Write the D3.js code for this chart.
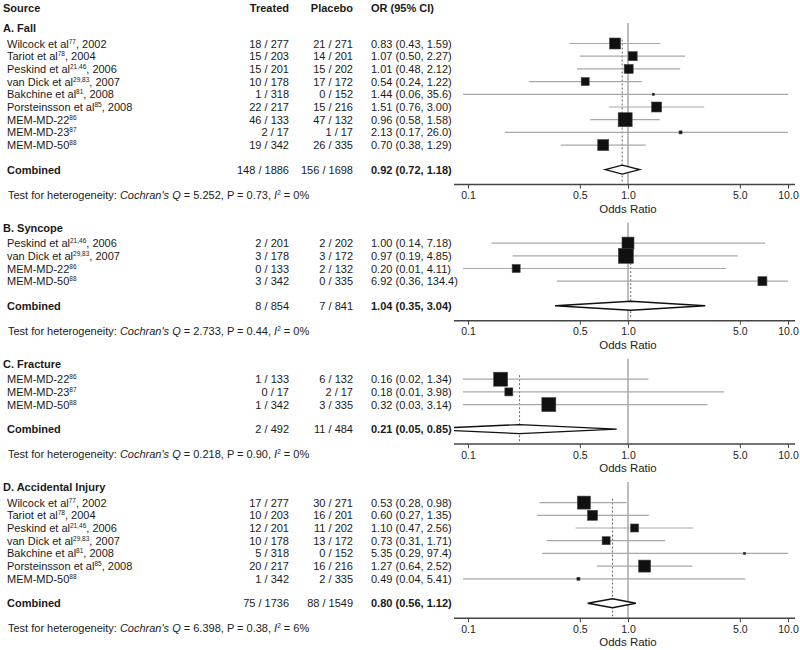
<!DOCTYPE html>
<html><head><meta charset="utf-8">
<script src="https://cdn.jsdelivr.net/npm/d3@7"></script>
<style>
body{margin:0;background:#fff;}
svg{font-family:"Liberation Sans",Arial,sans-serif;}
</style></head>
<body><svg id="c" width="800" height="650"></svg>
<script>
// ---------- DATA ----------
const panelTitles = ["A. Fall", "B. Syncope", "C. Fracture", "D. Accidental Injury"];

const fallStudies = ["Wilcock et al", "Tariot et al", "Peskind et al", "van Dick et al", "Bakchine et al", "Porsteinsson et al", "MEM-MD-22", "MEM-MD-23", "MEM-MD-50"];
const fallRefs = ["77", "78", "21,46", "29,83", "81", "85", "86", "87", "88"];
const fallYears = [", 2002", ", 2004", ", 2006", ", 2007", ", 2008", ", 2008", "", "", ""];
const fallTreated = ["18 / 277", "15 / 203", "15 / 201", "10 / 178", "1 / 318", "22 / 217", "46 / 133", "2 / 17", "19 / 342"];
const fallPlacebo = ["21 / 271", "14 / 201", "15 / 202", "17 / 172", "0 / 152", "15 / 216", "47 / 132", "1 / 17", "26 / 335"];
const fallOR = [0.83, 1.07, 1.01, 0.54, 1.44, 1.51, 0.96, 2.13, 0.70];
const fallLo = [0.43, 0.50, 0.48, 0.24, 0.06, 0.76, 0.58, 0.17, 0.38];
const fallHi = [1.59, 2.27, 2.12, 1.22, 35.6, 3.00, 1.58, 26.0, 1.29];
const fallOrText = ["0.83 (0.43, 1.59)", "1.07 (0.50, 2.27)", "1.01 (0.48, 2.12)", "0.54 (0.24, 1.22)", "1.44 (0.06, 35.6)", "1.51 (0.76, 3.00)", "0.96 (0.58, 1.58)", "2.13 (0.17, 26.0)", "0.70 (0.38, 1.29)"];
const fallWeight = [121, 81, 81, 64, 5, 100, 196, 9, 121];

const syncStudies = ["Peskind et al", "van Dick et al", "MEM-MD-22", "MEM-MD-50"];
const syncRefs = ["21,46", "29,83", "86", "88"];
const syncYears = [", 2006", ", 2007", "", ""];
const syncTreated = ["2 / 201", "3 / 178", "0 / 133", "3 / 342"];
const syncPlacebo = ["2 / 202", "3 / 172", "2 / 132", "0 / 335"];
const syncOR = [1.00, 0.97, 0.20, 6.92];
const syncLo = [0.14, 0.19, 0.01, 0.36];
const syncHi = [7.18, 4.85, 4.11, 134.4];
const syncOrText = ["1.00 (0.14, 7.18)", "0.97 (0.19, 4.85)", "0.20 (0.01, 4.11)", "6.92 (0.36, 134.4)"];
const syncWeight = [144, 225, 64, 81];

const fracStudies = ["MEM-MD-22", "MEM-MD-23", "MEM-MD-50"];
const fracRefs = ["86", "87", "88"];
const fracYears = ["", "", ""];
const fracTreated = ["1 / 133", "0 / 17", "1 / 342"];
const fracPlacebo = ["6 / 132", "2 / 17", "3 / 335"];
const fracOR = [0.16, 0.18, 0.32];
const fracLo = [0.02, 0.01, 0.03];
const fracHi = [1.34, 3.98, 3.14];
const fracOrText = ["0.16 (0.02, 1.34)", "0.18 (0.01, 3.98)", "0.32 (0.03, 3.14)"];
const fracWeight = [196, 64, 196];

const injStudies = ["Wilcock et al", "Tariot et al", "Peskind et al", "van Dick et al", "Bakchine et al", "Porsteinsson et al", "MEM-MD-50"];
const injRefs = ["77", "78", "21,46", "29,83", "81", "85", "88"];
const injYears = [", 2002", ", 2004", ", 2006", ", 2007", ", 2008", ", 2008", ""];
const injTreated = ["17 / 277", "10 / 203", "12 / 201", "10 / 178", "5 / 318", "20 / 217", "1 / 342"];
const injPlacebo = ["30 / 271", "16 / 201", "11 / 202", "13 / 172", "0 / 152", "16 / 216", "2 / 335"];
const injOR = [0.53, 0.60, 1.10, 0.73, 5.35, 1.27, 0.49];
const injLo = [0.28, 0.27, 0.47, 0.31, 0.29, 0.64, 0.04];
const injHi = [0.98, 1.35, 2.56, 1.71, 97.4, 2.52, 5.41];
const injOrText = ["0.53 (0.28, 0.98)", "0.60 (0.27, 1.35)", "1.10 (0.47, 2.56)", "0.73 (0.31, 1.71)", "5.35 (0.29, 97.4)", "1.27 (0.64, 2.52)", "0.49 (0.04, 5.41)"];
const injWeight = [169, 100, 64, 64, 5, 144, 9];

const combinedTreated = ["148 / 1886", "8 / 854", "2 / 492", "75 / 1736"];
const combinedPlacebo = ["156 / 1698", "7 / 841", "11 / 484", "88 / 1549"];
const combinedOR = [0.92, 1.04, 0.21, 0.80];
const combinedLo = [0.72, 0.35, 0.05, 0.56];
const combinedHi = [1.18, 3.04, 0.85, 1.12];
const combinedOrText = ["0.92 (0.72, 1.18)", "1.04 (0.35, 3.04)", "0.21 (0.05, 0.85)", "0.80 (0.56, 1.12)"];
const hetQ = ["5.252", "2.733", "0.218", "6.398"];
const hetP = ["0.73", "0.44", "0.90", "0.38"];
const hetI2 = ["0%", "0%", "0%", "6%"];

const tickValues = [0.1, 0.5, 1, 5, 10];
const headers = ["Source", "Treated", "Placebo", "OR (95% CI)"];

// ---------- BUILD ----------
const panels = [
  {studies: fallStudies, refs: fallRefs, years: fallYears, tr: fallTreated, pl: fallPlacebo, or: fallOR, lo: fallLo, hi: fallHi, txt: fallOrText, w: fallWeight},
  {studies: syncStudies, refs: syncRefs, years: syncYears, tr: syncTreated, pl: syncPlacebo, or: syncOR, lo: syncLo, hi: syncHi, txt: syncOrText, w: syncWeight},
  {studies: fracStudies, refs: fracRefs, years: fracYears, tr: fracTreated, pl: fracPlacebo, or: fracOR, lo: fracLo, hi: fracHi, txt: fracOrText, w: fracWeight},
  {studies: injStudies, refs: injRefs, years: injYears, tr: injTreated, pl: injPlacebo, or: injOR, lo: injLo, hi: injHi, txt: injOrText, w: injWeight}
];

const svg = d3.select("#c");
const x = d3.scaleLog().domain([0.1, 10]).range([468, 788]);
const side = d3.scaleSqrt().domain([0, 196]).range([0, 14]);
const lineMin = 463, lineMax = 788;
const axisL = 454, axisR = 795;
const fs = 11;
const colSrc = 7, colTr = 289, colPl = 353, colOR = 371;
const step = 12.7;
const txtCol = "#1a1a1a";

svg.append("defs").append("clipPath").attr("id", "plotclip")
  .append("rect").attr("x", axisL).attr("y", 0).attr("width", axisR - axisL).attr("height", 650);

// headers
const hy = 12;
svg.append("text").attr("x", 3).attr("y", hy).attr("font-weight", "bold").attr("font-size", fs).attr("fill", txtCol).text(headers[0]);
svg.append("text").attr("x", colTr).attr("y", hy).attr("text-anchor", "end").attr("font-weight", "bold").attr("font-size", fs).attr("fill", txtCol).text(headers[1]);
svg.append("text").attr("x", colPl).attr("y", hy).attr("text-anchor", "end").attr("font-weight", "bold").attr("font-size", fs).attr("fill", txtCol).text(headers[2]);
svg.append("text").attr("x", colOR).attr("y", hy).attr("font-weight", "bold").attr("font-size", fs).attr("fill", txtCol).text(headers[3]);

let titleY = 28;
panels.forEach((p, pi) => {
  const g = svg.append("g");
  const firstY = titleY + 15.5;
  const rowY = i => firstY + i * step;
  const lastY = rowY(p.studies.length - 1);
  const combY = lastY + 24.5;
  const axisY = combY + 15;
  const testY = combY + 25;

  // title
  g.append("text").attr("x", 3).attr("y", titleY + 4).attr("font-weight", "bold").attr("font-size", 11).attr("fill", txtCol).text(panelTitles[pi]);

  // reference line at 1 and dashed at combined
  g.append("line").attr("x1", x(1)).attr("x2", x(1)).attr("y1", titleY - 5).attr("y2", axisY)
    .attr("stroke", "#9a9a9a").attr("stroke-width", 1.3);
  g.append("line").attr("x1", x(combinedOR[pi])).attr("x2", x(combinedOR[pi])).attr("y1", firstY - 4).attr("y2", axisY - 2)
    .attr("stroke", "#666").attr("stroke-width", 1).attr("stroke-dasharray", "2,2");

  p.studies.forEach((s, i) => {
    const y = rowY(i);
    const t = g.append("text").attr("x", colSrc).attr("y", y + 4).attr("font-size", fs).attr("fill", txtCol);
    t.append("tspan").text(s);
    t.append("tspan").attr("font-size", 6.5).attr("dy", -4).text(p.refs[i]);
    if (p.years[i]) t.append("tspan").attr("dy", 4).text(p.years[i]);
    g.append("text").attr("x", colTr).attr("y", y + 4).attr("text-anchor", "end").attr("font-size", fs).attr("fill", txtCol).text(p.tr[i]);
    g.append("text").attr("x", colPl).attr("y", y + 4).attr("text-anchor", "end").attr("font-size", fs).attr("fill", txtCol).text(p.pl[i]);
    g.append("text").attr("x", colOR).attr("y", y + 4).attr("font-size", fs).attr("fill", txtCol).text(p.txt[i]);

    // CI line
    g.append("line")
      .attr("x1", Math.max(lineMin, x(p.lo[i]))).attr("x2", Math.min(lineMax, x(p.hi[i])))
      .attr("y1", y).attr("y2", y).attr("stroke", "#a8a8a8").attr("stroke-width", 1.2);
    const sz = side(p.w[i]);
    g.append("rect").attr("x", x(p.or[i]) - sz / 2).attr("y", y - sz / 2).attr("width", sz).attr("height", sz)
      .attr("fill", "#111").attr("stroke", "#444").attr("stroke-width", 0.6);
  });

  // combined
  g.append("text").attr("x", colSrc).attr("y", combY + 4).attr("font-weight", "bold").attr("font-size", fs).attr("fill", txtCol).text("Combined");
  g.append("text").attr("x", colTr).attr("y", combY + 4).attr("text-anchor", "end").attr("font-size", fs).attr("fill", txtCol).text(combinedTreated[pi]);
  g.append("text").attr("x", colPl).attr("y", combY + 4).attr("text-anchor", "end").attr("font-size", fs).attr("fill", txtCol).text(combinedPlacebo[pi]);
  g.append("text").attr("x", colOR).attr("y", combY + 4).attr("font-weight", "bold").attr("font-size", fs).attr("fill", txtCol).text(combinedOrText[pi]);
  const h = 4.5;
  const pts = [[x(combinedLo[pi]), combY], [x(combinedOR[pi]), combY - h], [x(combinedHi[pi]), combY], [x(combinedOR[pi]), combY + h]];
  g.append("polygon").attr("points", pts.map(d => d.join(",")).join(" "))
    .attr("fill", "#fff").attr("stroke", "#111").attr("stroke-width", 1.4).attr("clip-path", "url(#plotclip)");

  // axis
  const ax = g.append("g").attr("transform", `translate(0,${axisY})`)
    .call(d3.axisBottom(x).tickValues(tickValues).tickFormat(d3.format(".1f")).tickSize(4).tickPadding(3));
  ax.select(".domain").remove();
  ax.selectAll(".tick line").attr("stroke", "#444");
  ax.selectAll(".tick text").attr("font-size", 10.5).attr("fill", "#222").attr("font-family", "Liberation Sans, Arial, sans-serif");
  g.append("line").attr("x1", axisL).attr("x2", axisR).attr("y1", axisY).attr("y2", axisY).attr("stroke", "#444").attr("stroke-width", 1.5);
  g.append("text").attr("x", x(1)).attr("y", axisY + 28).attr("text-anchor", "middle").attr("font-size", 11.5).attr("fill", "#222").text("Odds Ratio");

  // heterogeneity
  const ht = g.append("text").attr("x", 8).attr("y", testY + 4).attr("font-size", fs).attr("fill", "#222");
  ht.append("tspan").text("Test for heterogeneity: ");
  ht.append("tspan").attr("font-style", "italic").text("Cochran's Q");
  ht.append("tspan").text(` = ${hetQ[pi]}, P = ${hetP[pi]}, `);
  ht.append("tspan").attr("font-style", "italic").text("I");
  ht.append("tspan").attr("font-size", 6.5).attr("dy", -4).text("2");
  ht.append("tspan").attr("dy", 4).text(` = ${hetI2[pi]}`);

  titleY = testY + 33;
});
</script></body></html>
